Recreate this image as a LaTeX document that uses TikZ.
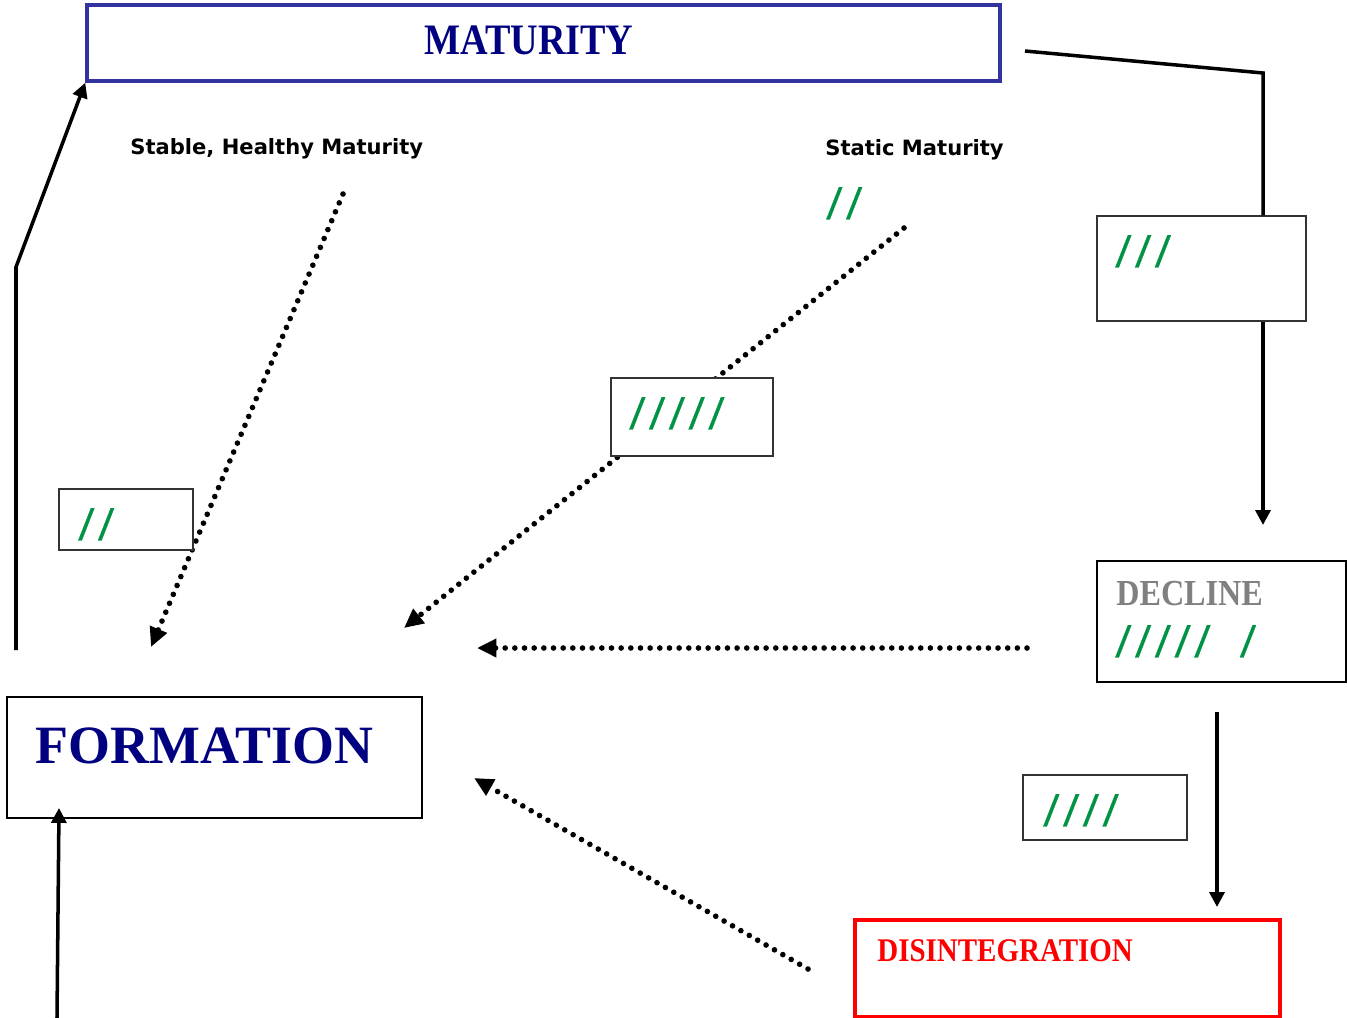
\documentclass[tikz,border=0pt]{standalone}
\usepackage{fontspec}
\setmainfont{Liberation Serif}
\setsansfont{DejaVu Sans}
\newfontfamily\tallyfont[FakeSlant=0.12,FakeBold=0.6]{Liberation Sans}
\usetikzlibrary{arrows.meta,positioning}

\definecolor{matblue}{RGB}{51,51,160}
\definecolor{navy}{RGB}{0,0,128}
\definecolor{tallygreen}{RGB}{0,146,69}
\definecolor{fadegrey}{RGB}{128,128,128}

\newcommand{\stagebox}[6]{\node[#6, minimum width={(#4-#2)*0.02cm}, minimum height={(#5-#3)*0.02cm}] (#1) at ({(#2+#4)/2},{(#3+#5)/2}) {};}
\newcommand{\tally}[3]{\node[tallytext] (#1) at (#2) {#3};}
\newcommand{\tk}{\kern4.3pt}
\newcommand{\camb}[1]{\scalebox{1}[1.14]{#1}}

\begin{document}
\begin{tikzpicture}[x=0.02cm, y=-0.02cm,
  matframe/.style={draw=matblue, line width=2pt, fill=white},
  formframe/.style={draw=black, line width=1.3pt, fill=white},
  declframe/.style={draw=black, line width=1.3pt, fill=white},
  disframe/.style={draw=red, line width=2pt, fill=white},
  tallyframe/.style={draw=black!80, line width=0.7pt, fill=white},
  tallytext/.style={anchor=base west, inner sep=0pt, text=tallygreen, font=\tallyfont\fontsize{25}{25}\selectfont},
  stagetext/.style={anchor=base west, inner sep=0pt, font=\bfseries},
  notetext/.style={anchor=base west, inner sep=0pt, font=\sffamily\bfseries\fontsize{12}{14}\selectfont},
  solidline/.style={line width=2pt},
  solidflow/.style={line width=2pt, -{Triangle[length=8.5pt,width=8.5pt]}},
  dotflow/.style={line width=3.2pt, line cap=round, dash pattern=on 0pt off 5.5pt, -{Triangle[length=11pt,width=10pt]}}]

  \useasboundingbox (0,0) rectangle (1347,1018);

  % Free ends
  % ---------
  \coordinate (lbot) at (16,650);
  \coordinate (lkink) at (16,267);
  \coordinate (fbot) at (57,1018);
  \coordinate (ftip) at (59,808);
  \coordinate (mstart) at (1025,51);
  \coordinate (rkink) at (1263,73);
  \coordinate (dtip) at (1263,525);
  \coordinate (dstart) at (1217,712);
  \coordinate (distip) at (1217,907);

  \coordinate (healthy) at (343,194);
  \coordinate (healthytip) at (151,647);
  \coordinate (static) at (904,228);
  \coordinate (statictip) at (404,628);
  \coordinate (declfrom) at (1027,648);
  \coordinate (declto) at (477,648);
  \coordinate (disfrom) at (808,969);
  \coordinate (disto) at (474,778);

  % Returns to formation
  % --------------------
  \draw[dotflow] (healthy) -- (healthytip);
  \draw[dotflow] (static) -- (statictip);
  \draw[dotflow] (declfrom) -- (declto);
  \draw[dotflow] (disfrom) -- (disto);

  % Stages
  % ------
  \stagebox{mat}{87}{5}{1000}{81}{matframe}
  \stagebox{form}{7}{697}{422}{818}{formframe}
  \stagebox{decl}{1097}{561}{1346}{682}{declframe}
  \stagebox{dis}{855}{920}{1280}{1017}{disframe}

  \node[stagetext, anchor=base, text=navy, font=\bfseries\fontsize{21.7}{24}\selectfont] (mattext) at (529,54) {\camb{MATURITY}};
  \node[stagetext, text=navy, font=\bfseries\fontsize{30.7}{32}\selectfont] (formtext) at (35,763) {FORMATION};
  \node[stagetext, text=fadegrey, font=\bfseries\fontsize{18.3}{20}\selectfont] (decltext) at (1116,605) {\camb{DECLINE}};
  \node[stagetext, text=red, font=\bfseries\fontsize{16.5}{18}\selectfont] (distext) at (877,961) {\camb{DISINTEGRATION}};

  \node[notetext] (healthytext) at (130,154) {Stable, Healthy Maturity};
  \node[notetext] (statictext) at (825,155) {Static Maturity};

  % Tally boxes
  % -----------
  \stagebox{box2}{59}{489}{193}{550}{tallyframe}
  \stagebox{box5}{611}{378}{773}{456}{tallyframe}
  \stagebox{box3}{1097}{216}{1306}{321}{tallyframe}
  \stagebox{box4}{1023}{775}{1187}{840}{tallyframe}

  \tally{ts}{826,219}{/\tk/}
  \tally{t2}{78,540}{/\tk/}
  \tally{t5}{629,429}{/\tk/\tk/\tk/\tk/}
  \tally{t3}{1115,267}{/\tk/\tk/}
  \tally{td}{1115,657}{/\tk/\tk/\tk/\tk/\kern19pt/}
  \tally{t4}{1043,826}{/\tk/\tk/\tk/}

  % Main cycle
  % ----------
  \draw[solidflow] (lbot) -- (lkink) -- (mat.south west);
  \draw[solidflow] (fbot) -- (ftip);
  \draw[solidline] (mstart) -- (rkink) -- (rkink |- box3.north);
  \draw[solidflow] (rkink |- box3.south) -- (dtip);
  \draw[solidflow] (dstart) -- (distip);

\end{tikzpicture}
\end{document}
